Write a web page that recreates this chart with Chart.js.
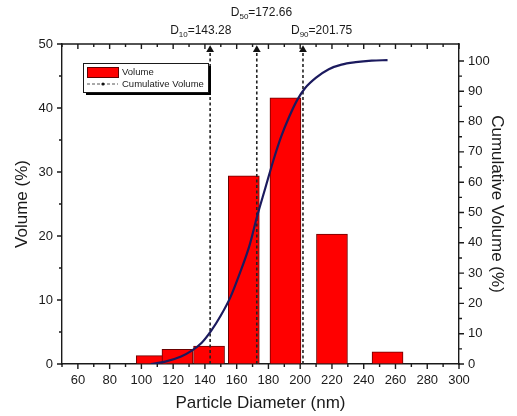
<!DOCTYPE html>
<html>
<head>
<meta charset="utf-8">
<script src="https://cdn.jsdelivr.net/npm/chart.js@4/dist/chart.umd.min.js"></script>
<style>
  html, body { margin: 0; padding: 0; background: #fff; }
  #wrap { width: 517px; height: 416px; }
</style>
</head>
<body>
<div id="wrap"><canvas id="psd" width="517" height="416"></canvas></div>
<script>
// histogram bins (bar centres, nm) and volume %
const diameters = [106.5, 122.7, 142.6, 164.5, 190.7, 220, 255];
const volumes = [1.3, 2.3, 2.8, 29.4, 41.6, 20.3, 1.9];

// cumulative curve
const cumDiameters = [106, 115, 125, 132, 138, 144, 150, 156, 162, 168, 173, 178, 183, 188, 193, 198, 203, 210, 218, 226, 235, 245, 255];
const cumVolumes = [0, 0.8, 2.5, 4.5, 7, 11, 16, 22, 30, 39, 49, 58, 67, 75, 81.5, 87, 91, 94.5, 97.3, 98.8, 99.6, 100.1, 100.3];

// D10 / D50 / D90 markers
const dNames = ["10", "50", "90"];
const dValues = [143.28, 172.66, 201.75];

const xTicks = [60, 80, 100, 120, 140, 160, 180, 200, 220, 240, 260, 280, 300];
const yTicks = [0, 10, 20, 30, 40, 50];
const y2Ticks = [0, 10, 20, 30, 40, 50, 60, 70, 80, 90, 100];

const INK = "#1a1a1a";
const FONT = "'Liberation Sans', Arial, sans-serif";

function setTicks(values) {
  return (scale) => { scale.ticks = values.map(v => ({ value: v })); };
}

function minors(values) {
  const out = [];
  for (let i = 0; i < values.length - 1; i++) out.push((values[i] + values[i + 1]) / 2);
  return out;
}

// axis ticks (major + minor), top frame line, legend and D labels
const decorations = {
  id: "decorations",
  afterDraw(chart) {
    const { ctx, chartArea: a, scales } = chart;
    const { x, y, y2 } = scales;
    ctx.save();
    ctx.strokeStyle = INK;
    ctx.lineWidth = 1.4;

    ctx.beginPath();
    ctx.moveTo(a.left - 0.7, a.top);
    ctx.lineTo(a.right + 0.7, a.top);
    ctx.stroke();

    const xMinor = [x.min].concat(minors(xTicks));
    ctx.beginPath();
    xTicks.forEach(v => {
      const px = x.getPixelForValue(v);
      ctx.moveTo(px, a.bottom); ctx.lineTo(px, a.bottom + 5);
      ctx.moveTo(px, a.top); ctx.lineTo(px, a.top + 5);
    });
    xMinor.forEach(v => {
      const px = x.getPixelForValue(v);
      ctx.moveTo(px, a.bottom); ctx.lineTo(px, a.bottom + 3);
      ctx.moveTo(px, a.top); ctx.lineTo(px, a.top + 3);
    });
    yTicks.forEach(v => {
      const py = y.getPixelForValue(v);
      ctx.moveTo(a.left, py); ctx.lineTo(a.left - 5, py);
    });
    minors(yTicks).forEach(v => {
      const py = y.getPixelForValue(v);
      ctx.moveTo(a.left, py); ctx.lineTo(a.left - 3, py);
    });
    y2Ticks.forEach(v => {
      const py = y2.getPixelForValue(v);
      ctx.moveTo(a.right, py); ctx.lineTo(a.right + 5, py);
    });
    minors(y2Ticks).forEach(v => {
      const py = y2.getPixelForValue(v);
      ctx.moveTo(a.right, py); ctx.lineTo(a.right + 3, py);
    });
    ctx.stroke();

    // D labels above the frame
    const labelPlace = [
      { dx: -40, y: 31 },
      { dx: -26, y: 13 },
      { dx: -12, y: 31 }
    ];
    ctx.fillStyle = INK;
    ctx.textBaseline = "middle";
    ctx.textAlign = "left";
    dValues.forEach((d, i) => {
      let tx = x.getPixelForValue(d) + labelPlace[i].dx;
      const ty = labelPlace[i].y;
      ctx.font = "12px " + FONT;
      ctx.fillText("D", tx, ty);
      tx += ctx.measureText("D").width;
      ctx.font = "8px " + FONT;
      ctx.fillText(dNames[i], tx, ty + 4);
      tx += ctx.measureText(dNames[i]).width;
      ctx.font = "12px " + FONT;
      ctx.fillText("=" + d.toFixed(2), tx, ty);
    });

    // legend box with drop shadow
    const lx = a.left + 21, ly = a.top + 19, lw = 125, lh = 29;
    ctx.fillStyle = "#000";
    ctx.fillRect(lx + 3, ly + 3, lw, lh);
    ctx.fillStyle = "#fff";
    ctx.fillRect(lx, ly, lw, lh);
    ctx.lineWidth = 1;
    ctx.strokeStyle = INK;
    ctx.strokeRect(lx + 0.5, ly + 0.5, lw, lh);

    ctx.fillStyle = "#ff0000";
    ctx.fillRect(lx + 4, ly + 4, 31, 10);
    ctx.strokeStyle = "#600000";
    ctx.strokeRect(lx + 4.5, ly + 4.5, 31, 10);

    ctx.strokeStyle = "#555";
    ctx.setLineDash([3, 2]);
    ctx.beginPath();
    ctx.moveTo(lx + 4, ly + 21);
    ctx.lineTo(lx + 35, ly + 21);
    ctx.stroke();
    ctx.setLineDash([]);
    ctx.fillStyle = "#111";
    ctx.beginPath();
    ctx.arc(lx + 20, ly + 21, 1.6, 0, Math.PI * 2);
    ctx.fill();

    ctx.fillStyle = INK;
    ctx.font = "9.5px " + FONT;
    ctx.fillText("Volume", lx + 39, ly + 9.5);
    ctx.fillText("Cumulative Volume", lx + 39, ly + 21);
    ctx.restore();
  }
};

const barPoints = diameters.map((d, i) => ({ x: d, y: volumes[i] }));
const cumPoints = cumDiameters.map((d, i) => ({ x: d, y: cumVolumes[i] }));

const markerSets = dValues.map(d => ({
  type: "line",
  data: [{ x: d, y: 0 }, { x: d, y: 49.1 }],
  yAxisID: "y",
  borderColor: "#222",
  borderWidth: 1.6,
  borderDash: [3, 2.5],
  pointRadius: [0, 4.5],
  pointStyle: "triangle",
  pointBackgroundColor: "#111",
  pointBorderColor: "#111",
  pointBorderWidth: 0,
  order: 2
}));

const tickFont = { family: FONT, size: 13 };
const titleFont = { family: FONT, size: 17 };

new Chart(document.getElementById("psd"), {
  type: "bar",
  data: {
    datasets: [
      {
        label: "Volume",
        data: barPoints,
        yAxisID: "y",
        backgroundColor: "#ff0000",
        borderColor: "#6a0000",
        borderWidth: 1,
        barThickness: 31,
        order: 3
      },
      ...markerSets,
      {
        type: "line",
        label: "Cumulative Volume",
        data: cumPoints,
        yAxisID: "y2",
        borderColor: "#1b1a5e",
        borderWidth: 2.2,
        pointRadius: 0,
        cubicInterpolationMode: "monotone",
        order: 1
      }
    ]
  },
  options: {
    responsive: false,
    animation: false,
    layout: { padding: { top: 44, left: 0, right: 0, bottom: 0 } },
    plugins: { legend: { display: false }, tooltip: { enabled: false } },
    scales: {
      x: {
        type: "linear",
        position: "bottom",
        offset: false,
        min: 50,
        max: 300,
        afterBuildTicks: setTicks(xTicks),
        afterFit: (s) => { s.height = 52; },
        ticks: { font: tickFont, color: INK, padding: 3, maxRotation: 0, autoSkip: false },
        grid: { offset: false, drawOnChartArea: false, tickLength: 6, tickColor: "transparent" },
        border: { color: INK, width: 1.4 },
        title: { display: true, text: "Particle Diameter (nm)", font: titleFont, color: INK, padding: { top: 2, bottom: 2 } }
      },
      y: {
        position: "left",
        min: 0,
        max: 50,
        afterBuildTicks: setTicks(yTicks),
        afterFit: (s) => { s.width = 62; },
        ticks: { font: tickFont, color: INK, padding: 3 },
        grid: { drawOnChartArea: false, tickLength: 6, tickColor: "transparent" },
        border: { color: INK, width: 1.4 },
        title: { display: true, text: "Volume (%)", font: titleFont, color: INK, padding: { top: 12, bottom: 12 } }
      },
      y2: {
        position: "right",
        min: 0,
        max: 105.6,
        afterBuildTicks: setTicks(y2Ticks),
        afterFit: (s) => { s.width = 58; },
        ticks: { font: tickFont, color: INK, padding: 3 },
        grid: { drawOnChartArea: false, tickLength: 6, tickColor: "transparent" },
        border: { color: INK, width: 1.4 },
        title: { display: true, text: "Cumulative Volume (%)", font: titleFont, color: INK, padding: { top: 10, bottom: 10 } }
      }
    }
  },
  plugins: [decorations]
});
</script>
</body>
</html>
